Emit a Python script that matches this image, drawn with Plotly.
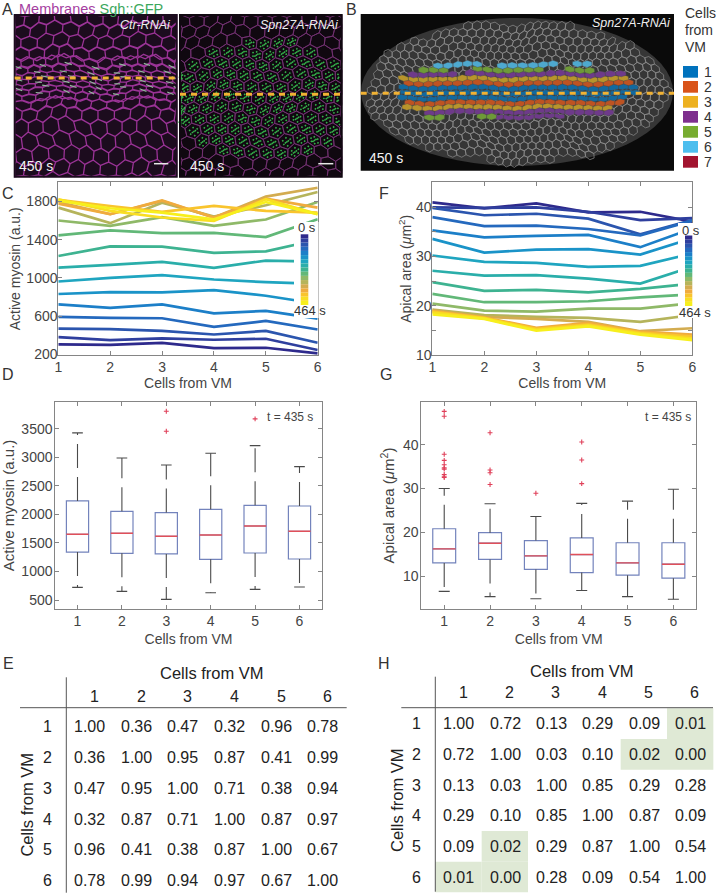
import math
import plotly.graph_objects as go

W, H = 716, 895
FONT = "Liberation Sans, Arial, sans-serif"
TXT = "#444444"

cells = [1, 2, 3, 4, 5, 6]

# ---- Panel C: active myosin vs cell position, one list per time point
myosin_t = [
    [304, 300, 321, 266, 269, 210],
    [380, 349, 367, 353, 363, 245],
    [470, 464, 446, 408, 446, 321],
    [592, 582, 578, 488, 550, 460],
    [724, 686, 724, 630, 655, 575],
    [832, 852, 849, 873, 814, 730],
    [963, 1001, 1029, 984, 956, 939],
    [1109, 1137, 1168, 1106, 1182, 1172],
    [1230, 1331, 1328, 1262, 1279, 1400],
    [1446, 1498, 1470, 1473, 1428, 1615],
    [1602, 1546, 1637, 1546, 1612, 1796],
    [1737, 1574, 1789, 1643, 1761, 1900],
    [1796, 1668, 1806, 1633, 1852, 1945],
    [1778, 1668, 1813, 1633, 1830, 1737],
    [1817, 1754, 1692, 1754, 1702, 1685],
    [1824, 1702, 1633, 1598, 1824, 1668],
    [1810, 1730, 1685, 1615, 1795, 1668],
]
# ---- Panel F: apical area vs cell position
area_t = [
    [41.0, 39.8, 40.8, 39.0, 39.1, 37.1],
    [40.0, 39.9, 40.0, 39.1, 37.4, 37.8],
    [39.9, 38.4, 38.7, 37.7, 34.5, 37.4],
    [38.0, 36.2, 36.3, 35.6, 34.3, 37.3],
    [35.3, 33.9, 34.2, 34.4, 31.9, 35.7],
    [33.6, 30.8, 31.4, 31.5, 30.4, 33.7],
    [30.2, 28.9, 28.7, 27.9, 28.1, 30.6],
    [27.1, 26.1, 26.2, 25.5, 24.5, 27.9],
    [24.8, 23.0, 23.2, 22.7, 23.4, 24.5],
    [22.4, 20.7, 20.7, 20.9, 21.7, 22.3],
    [20.4, 19.0, 18.8, 19.4, 19.4, 20.5],
    [19.2, 18.1, 17.7, 17.5, 16.7, 18.1],
    [19.1, 17.7, 17.3, 16.7, 14.8, 15.4],
    [18.9, 17.6, 15.5, 16.5, 14.7, 14.1],
    [18.8, 17.5, 15.3, 16.2, 14.5, 13.7],
    [18.6, 17.4, 15.1, 16.0, 14.3, 13.3],
    [18.2, 17.3, 14.9, 15.8, 14.1, 13.0],
]
time_colors = ["#2E2A8C", "#2F3F9E", "#2B55AE", "#2469BE", "#1C7FC8", "#1A93C8",
               "#1FA5C0", "#2AAEAA", "#3EB391", "#62B878", "#8FB968", "#B5B45B",
               "#D3AC50", "#F0AB3E", "#F9C42D", "#F9DE22", "#F7EF1D"]

# ---- Panel D: box statistics at t = 435 s
d_q1 = [1340, 1317, 1306, 1212, 1323, 1218]
d_med = [1650, 1668, 1615, 1638, 1796, 1703]
d_q3 = [2234, 2053, 2030, 2088, 2158, 2146]
d_lo = [722, 652, 512, 628, 687, 728]
d_hi = [3425, 2987, 2864, 3069, 3203, 2835]
d_out = [[], [], [3805, 3454], [], [3670], []]
# ---- Panel G
g_q1 = [13.0, 13.8, 11.5, 10.8, 10.2, 9.5]
g_med = [16.2, 17.5, 14.6, 14.9, 13.0, 12.7]
g_q3 = [20.8, 19.9, 18.1, 18.7, 17.6, 17.6]
g_lo = [6.5, 5.3, 4.8, 6.7, 5.3, 4.7]
g_hi = [30.0, 26.5, 23.6, 26.6, 27.1, 29.8]
g_out = [[47.6, 46.5, 37.8, 36.4, 35.4, 34.7, 34.4, 33.2, 32.8, 32.5],
         [42.7, 34.2, 33.6, 30.9], [28.9], [40.6, 36.5, 31.1], [], []]

# ---- Tables E and H
table_e = [[1.00, 0.36, 0.47, 0.32, 0.96, 0.78],
           [0.36, 1.00, 0.95, 0.87, 0.41, 0.99],
           [0.47, 0.95, 1.00, 0.71, 0.38, 0.94],
           [0.32, 0.87, 0.71, 1.00, 0.87, 0.97],
           [0.96, 0.41, 0.38, 0.87, 1.00, 0.67],
           [0.78, 0.99, 0.94, 0.97, 0.67, 1.00]]
table_h = [[1.00, 0.72, 0.13, 0.29, 0.09, 0.01],
           [0.72, 1.00, 0.03, 0.10, 0.02, 0.00],
           [0.13, 0.03, 1.00, 0.85, 0.29, 0.28],
           [0.29, 0.10, 0.85, 1.00, 0.87, 0.09],
           [0.09, 0.02, 0.29, 0.87, 1.00, 0.54],
           [0.01, 0.00, 0.28, 0.09, 0.54, 1.00]]
table_h_shaded = [(0, 5), (1, 4), (1, 5), (4, 1), (5, 0), (5, 1)]

legend_colors = ["#0072BD", "#D95319", "#EDB120", "#7E2F8E", "#77AC30", "#4DBEEE", "#A2142F"]


def px(x):
    return x / W


def py(y):
    return 1 - y / H


shapes, notes = [], []


def note(x, y, text, size=14, color=TXT, anchor="center", angle=0, valign="middle"):
    notes.append(dict(x=px(x), y=py(y), xref="paper", yref="paper", text=text, showarrow=False,
                      xanchor=anchor, yanchor=valign, textangle=angle,
                      font=dict(family=FONT, size=size, color=color)))


def rect(x0, y0, x1, y1, fill, line=None):
    shapes.append(dict(type="rect", xref="paper", yref="paper", x0=px(x0), x1=px(x1),
                       y0=py(y1), y1=py(y0), fillcolor=fill,
                       line=dict(width=0) if line is None else dict(width=2, color=line)))


def hline(x0, y0, x1, y1, color, width=1, dash=None):
    shapes.append(dict(type="line", xref="paper", yref="paper", x0=px(x0), x1=px(x1),
                       y0=py(y0), y1=py(y1), line=dict(color=color, width=width, dash=dash)))


def warp(a, b, amp=1.0):
    """Smooth bend of the decorative cell sheet so it does not look ruled."""
    return (a + amp * (2.2 * math.sin(b / 11) + 1.2 * math.sin(a / 17 + b / 9)),
            b + amp * (1.8 * math.sin(a / 13) + 1.0 * math.sin(a / 7 - b / 11)))


def hex_path(cx, cy, w, s, box, amp=1.0):
    """Outline of one pointy-top cell in pixel space, clamped to box."""
    x0, y0, x1, y1 = box
    h = s * 2 / 3
    pts = [(cx, cy - h), (cx + w / 2, cy - h / 2), (cx + w / 2, cy + h / 2),
           (cx, cy + h), (cx - w / 2, cy + h / 2), (cx - w / 2, cy - h / 2)]
    pts = [warp(a, b, amp) for a, b in pts]
    return [(min(max(a, x0), x1), min(max(b, y0), y1)) for a, b in pts]


def to_path(polys, close=True):
    out = []
    for p in polys:
        seg = "M" + " L".join(f"{px(a):.4f},{py(b):.4f}" for a, b in p)
        out.append(seg + (" Z" if close else ""))
    return " ".join(out)


def lattice(rows, box, width_of):
    polys = []
    for i, (y, s) in enumerate(rows):
        w = width_of(y)
        x = box[0] - (w / 2 if i % 2 else 0)
        while x < box[2] + w:
            polys.append(hex_path(x, y, w, s, box))
            x += w
    return polys


def add_path(polys, line, width, fill=None):
    shapes.append(dict(type="path", xref="paper", yref="paper", path=to_path(polys),
                       line=dict(color=line, width=width),
                       fillcolor=fill if fill else "rgba(0,0,0,0)"))


# ---- Panel A left
box_a1 = (14.7, 15, 176.7, 176.7)
rect(*box_a1, "#1C0C1E")
rows_a1 = [(18, 13), (30, 12), (42, 12), (53, 11), (62, 9), (69, 7), (75, 5), (80, 5),
           (85, 5), (90, 6), (96, 7), (104, 9), (114, 12), (127, 14), (141, 14),
           (155, 14), (169, 14)]
polys = lattice(rows_a1, box_a1, lambda y: 13 if 60 < y < 100 else 15.5)
add_path(polys, "#9A3396", 1.3)
specks = [p[:2] for p in lattice([r for r in rows_a1 if 66 <= r[0] <= 96], box_a1, lambda y: 13)]
add_path(specks[::2], "#8FB99A", 1.1)
rect(*box_a1, "rgba(0,0,0,0)", "#1C0C1E")

# ---- Panel A right
box_a2 = (180, 15, 341.7, 176.7)
rect(*box_a2, "#100810")
rows_a2 = [(y, 11) for y in range(20, 176, 11)]
polys = lattice(rows_a2, box_a2, lambda y: 14)
add_path(polys, "#70306F", 0.9)
green = []
for p in polys:
    cx = sum(a for a, _ in p) / 6
    cy = sum(b for _, b in p) / 6
    if ((cx - 262) / 90) ** 2 + ((cy - 100) / 62) ** 2 < 1:
        for a, b in p + [(cx, cy), (cx + 3, cy - 2), (cx - 3, cy + 2)]:
            aa, bb = (a + cx) / 2, (b + cy) / 2
            if aa < 339:
                green.append([(aa, bb), (aa + 1.2, bb + 1.0)])
shapes.append(dict(type="path", xref="paper", yref="paper", path=to_path(green, close=False),
                   line=dict(color="#35B24A", width=1.6)))
rect(*box_a2, "rgba(0,0,0,0)", "#100810")

# ---- Panel B
box_b = (360.7, 14, 674, 170.7)
rect(*box_b, "#0A0A0A")
ex0, ey0, rx, ry = 517, 92, 156, 74
shapes.append(dict(type="circle", xref="paper", yref="paper", x0=px(ex0 - rx), x1=px(ex0 + rx),
                   y0=py(ey0 + ry), y1=py(ey0 - ry), fillcolor="#363636", line=dict(width=0)))
polys_b = []
for i, y in enumerate(range(20, 166, 7)):
    x = ex0 - rx - (4 if i % 2 else 0)
    while x < ex0 + rx:
        if ((x - ex0) / (rx - 5)) ** 2 + ((y - ey0) / (ry - 4)) ** 2 < 1:
            polys_b.append(hex_path(x, y, 8.5, 7, box_b))
        x += 8.5
add_path(polys_b, "#8F8F8F", 0.7)

# mosaic rows of segmented cells: band index, row centre, first and last cell centre (px)
band_rows = [(5, 65, 438, 478), (5, 65, 498, 558), (5, 63, 578, 590),
             (4, 69.5, 418, 450), (4, 69.5, 478, 545), (4, 69.5, 565, 592),
             (3, 74, 412, 455), (3, 74, 465, 625),
             (2, 78.5, 402, 628), (1, 83, 402, 632),
             (0, 88, 402, 632), (0, 93, 399, 636), (0, 98, 402, 630),
             (1, 103, 405, 625), (2, 107.5, 408, 612), (3, 112, 425, 612),
             (4, 116.5, 430, 445), (4, 116.5, 478, 500), (3, 116.5, 500, 560)]
band_colors = ["#12699F", "#BE5322", "#B8942B", "#6E3A8A", "#6E9A38", "#4EA9CF"]
for k, col in enumerate(band_colors):
    polys = []
    for n_row, (b, y, a, z) in enumerate(band_rows):
        if b == k:
            x = a + (5 if n_row % 2 else 0)
            while x <= z:
                polys.append(hex_path(x, y, 10, 5, box_b, amp=0.5))
                x += 10
    add_path(polys, "#4A4A4A", 0.4, col)

# ---- dashed overlays on the images
DASH = "6px,5px"
hline(14.7, 78, 176.7, 78, "#F2B233", 3, DASH)
hline(180, 94.3, 341.7, 94.3, "#F2B233", 3, DASH)
hline(360.7, 93.3, 674, 93.3, "#F2B233", 3, DASH)
hline(154, 163.7, 168.3, 163.7, "#E8E8E8", 1.5)
hline(318.3, 163.7, 333.3, 163.7, "#E8E8E8", 1.5)

note(173, 25, "<i>Ctr-RNAi</i>", 12.5, "#EEEEEE", "right")
note(340.7, 25, "<i>Spn27A-RNAi</i>", 12.5, "#EEEEEE", "right")
note(673, 22.7, "<i>Spn27A-RNAi</i>", 12.5, "#EEEEEE", "right")
note(16.7, 165.7, "450 s", 14, "#F2F2F2", "left")
note(188, 166, "450 s", 14, "#F2F2F2", "left")
note(367.3, 158, "450 s", 14, "#F2F2F2", "left")

note(16.7, 9.5, '<span style="color:#A5409F">Membranes</span> '
     '<span style="color:#3BA85C">Sgh::GFP</span>', 14.5, anchor="left")

for i, t in enumerate(["Cells", "from", "VM"]):
    note(683, 12.7 + 17 * i, t, 14, "#333333", "left")
for i, c in enumerate(legend_colors):
    rect(683, 66 + 15 * i, 698, 77.7 + 15 * i, c)
    note(702, 71.7 + 15 * i, str(i + 1), 14, "#333333", "left")

for lab, x, y in [("A", 7.5, 9), ("B", 351.7, 9), ("C", 8, 193), ("D", 8, 375), ("E", 8, 663),
                  ("F", 383.7, 193), ("G", 385.7, 375), ("H", 384, 663)]:
    note(x, y, lab, 16, "#333333")

fig = go.Figure()
axis_gray = "#858585"


def style_axes(n, x0, x1, y0, y1, xr, yr, yt, xt, title_y, sy, sx, ts_x, ts_y, minor=None, ysize=14):
    xk, yk = ("xaxis", "yaxis") if n == 1 else (f"xaxis{n}", f"yaxis{n}")
    tf = dict(family=FONT, size=14, color=TXT)
    fig.layout[xk] = dict(domain=[px(x0), px(x1)], range=xr, anchor=f"y{'' if n == 1 else n}",
                          tickvals=xt, ticks="inside", ticklen=4, tickcolor=axis_gray,
                          showgrid=False, zeroline=False, showline=True, linecolor=axis_gray,
                          mirror="ticks", tickfont=tf, ticklabelstandoff=ts_x,
                          title=dict(text="Cells from VM", font=tf, standoff=sx))
    fig.layout[yk] = dict(domain=[py(y1), py(y0)], range=yr, anchor=f"x{'' if n == 1 else n}",
                          tickvals=yt, ticks="inside", ticklen=4, tickcolor=axis_gray,
                          showgrid=False, zeroline=False, showline=True, linecolor=axis_gray,
                          mirror="ticks", tickfont=tf, ticklabelstandoff=ts_y,
                          title=dict(text=title_y, font=dict(family=FONT, size=ysize, color=TXT),
                                     standoff=sy))
    if minor:
        fig.layout[yk].minor = dict(tickvals=minor, ticks="inside", ticklen=4,
                                    tickcolor=axis_gray, showgrid=False)


def line_panel(n, data):
    for vals, col in zip(data, time_colors):
        fig.add_trace(go.Scatter(x=cells, y=vals, mode="lines", showlegend=False,
                                 line=dict(color=col, width=2.7, simplify=False),
                                 xaxis=f"x{n}", yaxis=f"y{n}"))


def box_panel(n, q1, med, q3, lo, hi, out, dash="24px,9px"):
    axx, axy = f"x{n}", f"y{n}"
    for i, c in enumerate(cells):
        fig.add_trace(go.Box(x=[c], q1=[q1[i]], median=[med[i]], q3=[q3[i]], lowerfence=[q1[i]],
                             upperfence=[q3[i]], width=0.5, boxpoints=False, showlegend=False,
                             line=dict(color="#7383BC", width=1.2), fillcolor="rgba(0,0,0,0)",
                             xaxis=axx, yaxis=axy, orientation="v"))
        fig.add_trace(go.Scatter(x=[c - 0.25, c + 0.25], y=[med[i], med[i]], mode="lines",
                                 showlegend=False, line=dict(color="#E0505A", width=1.4),
                                 xaxis=axx, yaxis=axy))
        for a, b in [(q3[i], hi[i]), (q1[i], lo[i])]:
            fig.add_trace(go.Scatter(x=[c, c], y=[a, b], mode="lines", showlegend=False,
                                     line=dict(color="#4A4A4A", width=1.1, dash=dash),
                                     xaxis=axx, yaxis=axy))
            fig.add_trace(go.Scatter(x=[c - 0.12, c + 0.12], y=[b, b], mode="lines", showlegend=False,
                                     line=dict(color="#4A4A4A", width=1.1), xaxis=axx, yaxis=axy))
        if out[i]:
            fig.add_trace(go.Scatter(x=[c] * len(out[i]), y=out[i], mode="markers", showlegend=False,
                                     marker=dict(symbol="cross-thin", size=3.5,
                                                 line=dict(color="#E0405A", width=1.1)),
                                     xaxis=axx, yaxis=axy))


# Panel C, F, D, G axes
line_panel(1, myosin_t)
style_axes(1, 58.3, 317.7, 182.3, 355.3, [1, 6], [190, 2002], [200, 600, 1000, 1400, 1800],
           cells, "Active myosin (a.u.)", 2, 1, -1, -3)
line_panel(2, area_t)
style_axes(2, 432.3, 692.3, 182.3, 355.3, [1, 6], [9.9, 45.1], [10, 20, 30, 40], cells,
           "Apical area (<i>μ</i>m<sup>2</sup>)", 1, 1, -1, -3, minor=[15, 25, 35, 45])
box_panel(3, d_q1, d_med, d_q3, d_lo, d_hi, d_out)
style_axes(3, 55.3, 321.7, 402.3, 608.7, [0.5, 6.5], [348, 3961],
           [500, 1000, 1500, 2000, 2500, 3000, 3500], cells,
           "Active myosin (a.u.)", 3, 6, -1, -1, ysize=15)
box_panel(4, g_q1, g_med, g_q3, g_lo, g_hi, g_out)
style_axes(4, 421.3, 696.3, 402.3, 608.7, [0.5, 6.5], [2.54, 49.67], [10, 20, 30, 40], cells,
           "Apical area (<i>μ</i>m<sup>2</sup>)", 4, 6, -1, -1, ysize=15)

note(290, 417, "t = 435 s", 12)
note(668, 417, "t = 435 s", 12)


def time_bar(x0, x1, y0, y1, ox0, ox1, oy0, oy1, lab0, lab1):
    rect(ox0, oy0, ox1, oy1, "#FFFFFF")
    step = (y1 - y0) / len(time_colors)
    for i, c in enumerate(time_colors):
        rect(x0, y0 + i * step, x1, y0 + (i + 1) * step, c)
    note(lab0[0], lab0[1], "0 s", 13, "#333333")
    note(lab1[0], lab1[1], "464 s", 13, "#333333")


time_bar(300.7, 308.3, 234.3, 305, 294, 318.5, 222, 318, (307, 228), (310, 310.7))
time_bar(685, 692.3, 235.5, 306, 678, 693, 223, 318, (691, 230), (695, 312))


def table(x_cols, x_heads, y_rows, y_head, title, row_x, rot_x, rot_y, vals, hl, vl):
    for j, xh in enumerate(x_heads):
        note(xh, y_head, str(j + 1), 16, "#222222")
    for i, y in enumerate(y_rows):
        note(row_x, y, str(i + 1), 16, "#222222")
        for j, x in enumerate(x_cols):
            note(x, y, f"{vals[i][j]:.2f}", 16, "#222222")
    note(title[0], title[1], "Cells from VM", 16.5, "#222222")
    note(rot_x, rot_y, "Cells from VM", 16.5, "#222222", angle=-90)
    hline(*hl, "#555555", 1)
    hline(*vl, "#555555", 1)


for i, j in table_h_shaded:
    x0 = 358 + (232 + 139 * j) / 3
    y0 = 620 + (265 + 92 * i) / 3
    rect(x0, y0, x0 + 139 / 3, y0 + 92 / 3, "#DFE9D5")

table([89.3, 136, 182.7, 229.7, 276, 322.7], [94.3, 141, 187.7, 234.3, 281, 327.7],
      [726.7, 757.3, 788, 819, 849.7, 880.7], 696, (211.7, 672.7), 47.7, 27.3, 804.3, table_e,
      (20, 707.7, 346.7, 707.7), (66.3, 677.3, 66.3, 892.7))
table([458.7, 505, 551.3, 597.7, 644, 690], [463, 509.3, 555.7, 602, 648.3, 694.7],
      [723.7, 754.3, 785, 815.7, 846.3, 877.3], 692.7, (581.7, 670.7), 416.3, 397, 800, table_h,
      (401.3, 707.7, 713, 707.7), (435.3, 676.7, 435.3, 891.7))

fig.update_layout(width=W, height=H, margin=dict(l=0, r=0, t=0, b=0, autoexpand=False),
                  paper_bgcolor="white", plot_bgcolor="white", showlegend=False,
                  boxmode="overlay", shapes=shapes, annotations=notes,
                  font=dict(family=FONT, color=TXT))

fig.write_html("out.html", config=dict(displayModeBar=False),
               post_script="document.body.style.margin='0';document.body.style.overflow='hidden';")
